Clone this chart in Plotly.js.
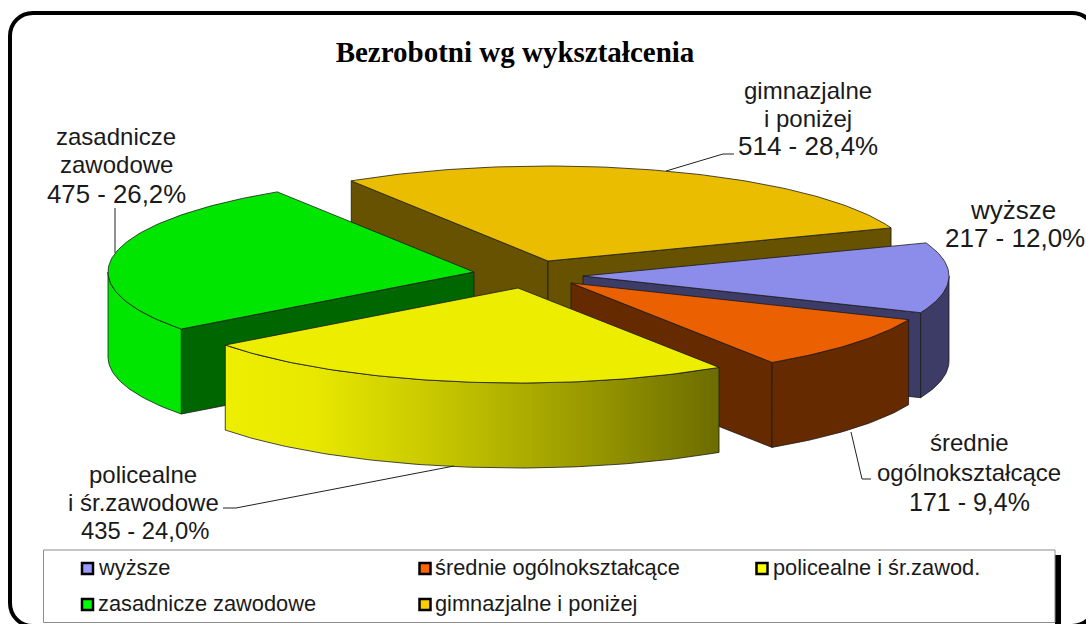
<!DOCTYPE html>
<html lang="pl">
<head>
<meta charset="utf-8">
<title>Bezrobotni wg wykształcenia</title>
<script src="https://cdn.plot.ly/plotly-3.0.1.min.js"></script>
<style>html,body{margin:0;padding:0;background:#fff}#chart{width:1086px;height:624px}</style>
</head>
<body>
<div id="chart"></div>
<script>
// ---- data ----
const titleText = 'Bezrobotni wg wykształcenia';
const categories = ['wyższe', 'średnie ogólnokształcące', 'policealne i śr.zawod.', 'zasadnicze zawodowe', 'gimnazjalne i poniżej'];
const values = [217, 171, 435, 475, 514];
const percents = ['12,0%', '9,4%', '24,0%', '26,2%', '28,4%'];
const labelNames = [['wyższe'], ['średnie', 'ogólnokształcące'], ['policealne', 'i śr.zawodowe'], ['zasadnicze', 'zawodowe'], ['gimnazjalne', 'i poniżej']];

// ---- styles ----
const topColors = ['#8c8ceb', '#eb6000', '#eded00', '#00e600', '#ebbd00'];
const wallColors = ['#3c3c66', '#662a00', '#666600', '#006600', '#665200'];
const bandColors = ['#3c3c66', '#662a00', null, '#00e600', '#665200'];
const legendColors = ['#9999ff', '#ff6600', '#ffff00', '#00ff00', '#ffcc00'];

// ---- projected pie geometry, in axis units (axes span the picture) ----
const rx = 366, ry = 95, depth = 85, startAngle = 69.6;
const apexX = [583, 571, 518, 474, 548];
const apexY = [276, 283, 288, 272, 261];
const drawOrder = [4, 3, 0, 1, 2];
const total = values.reduce((a, b) => a + b, 0);

function rim(i, deg, dy) {
  const r = deg * Math.PI / 180;
  return [apexX[i] + rx * Math.sin(r), apexY[i] - ry * Math.cos(r) + dy];
}
function arc(i, from, to, dy) {
  const out = [], n = Math.max(2, Math.ceil(Math.abs(to - from)));
  for (let k = 0; k <= n; k++) out.push(rim(i, from + (to - from) * k / n, dy));
  return out;
}
const outline = {color: '#1a1a1a', width: 0.8};
function poly(pts, color, extra) {
  return Object.assign({
    type: 'scatter', mode: 'lines', x: pts.map(p => p[0]), y: pts.map(p => p[1]),
    fill: 'toself', fillcolor: color, line: outline, hoverinfo: 'skip', showlegend: false
  }, extra || {});
}

let acc = startAngle;
const spans = values.map(v => { const a = acc; acc += v / total * 360; return [a, acc]; });
const traces = [];
drawOrder.forEach(i => {
  const [a, b] = spans[i];
  const apex = [apexX[i], apexY[i]];
  if (Math.sin(a * Math.PI / 180) < 0) {
    const c = rim(i, a, 0), d = rim(i, a, depth);
    traces.push(poly([apex, c, d, [apex[0], apex[1] + depth], apex], wallColors[i]));
  }
  if (Math.sin(b * Math.PI / 180) > 0) {
    const c = rim(i, b, 0), d = rim(i, b, depth);
    traces.push(poly([apex, c, d, [apex[0], apex[1] + depth], apex], wallColors[i]));
  }
  const f = Math.max(a, 90), t = Math.min(b, 270);
  if (t > f) {
    const band = arc(i, f, t, 0).concat(arc(i, t, f, depth));
    band.push(band[0]);
    if (bandColors[i]) {
      traces.push(poly(band, bandColors[i]));
    } else {
      const xs = band.map(p => p[0]);
      traces.push(poly(band, topColors[i], {
        fillgradient: {
          type: 'horizontal', start: Math.min(...xs), stop: Math.max(...xs),
          colorscale: [[0, '#eeee00'], [0.18, '#e8e800'], [0.45, '#c4c400'], [0.75, '#969600'], [1, '#6c6c00']]
        }
      }));
    }
  }
  const face = [apex].concat(arc(i, a, b, 0));
  face.push(apex);
  traces.push(poly(face, topColors[i]));
});

// leader lines
const leaderX = [[734, 723, 666], [851, 862, 871], [223, 236, 454], [115, 115]];
const leaderY = [[154, 154, 171], [432, 479, 479], [508, 508, 466], [208, 253]];
leaderX.forEach((xs, k) => traces.push({
  type: 'scatter', mode: 'lines', x: xs, y: leaderY[k],
  line: {color: '#222', width: 1}, hoverinfo: 'skip', showlegend: false
}));

// legend markers
const legendX = [87.5, 425, 762, 87.5, 425];
const legendY = [568.5, 568.5, 568.5, 604.5, 604.5];
traces.push({
  type: 'scatter', mode: 'markers', x: legendX, y: legendY,
  marker: {symbol: 'square', size: 11, color: legendColors, line: {color: '#000', width: 2.5}},
  hoverinfo: 'skip', showlegend: false
});

// ---- text ----
const SANS = 'Liberation Sans, Arial, sans-serif';
function note(text, x, y, size, anchor) {
  return {text, x, y, xref: 'x', yref: 'y', showarrow: false, xanchor: anchor || 'center', yanchor: 'middle',
    font: {family: SANS, size, color: '#1a1a1a'}};
}
const labelX = [1013, 969, 143, 116, 808];
const labelLineY = [[210, 238], [442, 472, 502], [474, 502, 530], [136, 164, 194], [90, 118, 146]];
const nameSize = [26, 24, 24, 24, 24];
const valueSize = [26, 25, 23.8, 25.8, 26];
const annotations = [];
categories.forEach((_, i) => {
  const ys = labelLineY[i];
  labelNames[i].forEach((line, k) => annotations.push(note(line, labelX[i], ys[k], nameSize[i])));
  annotations.push(note(values[i] + ' - ' + percents[i], labelX[i] + (i === 0 ? 2 : i === 2 ? 2 : 0), ys[ys.length - 1], valueSize[i]));
});
const legendTextX = [96, 433, 771, 96, 433];
categories.forEach((c, i) => annotations.push(note(c, legendTextX[i], legendY[i] - 1, 21.8, 'left')));

const shapes = [
  // chart frame, running past the right and bottom of the picture
  {type: 'path', xref: 'x', yref: 'y', layer: 'below', line: {color: '#000', width: 4},
   path: 'M 10 36 C 10 23 20 13 33 13 L 1072 13 C 1085 13 1095 23 1095 36 L 1095 603 C 1095 616 1085 626 1072 626 L 33 626 C 20 626 10 616 10 603 Z'},
  // legend shadow and box
  {type: 'rect', xref: 'x', yref: 'y', layer: 'below', x0: 1055, x1: 1061, y0: 555, y1: 624, fillcolor: '#000', line: {width: 0}},
  {type: 'rect', xref: 'x', yref: 'y', layer: 'below', x0: 43.5, x1: 1055, y0: 550, y1: 622.5, fillcolor: '#fff', line: {color: '#8c8c8c', width: 1}}
];

const layout = {
  width: 1086, height: 624, margin: {l: 0, r: 0, t: 0, b: 0},
  paper_bgcolor: '#fff', plot_bgcolor: '#fff', showlegend: false, hovermode: false,
  title: {text: '<b>' + titleText + '</b>', x: 515 / 1086, xanchor: 'center', y: 1 - 52 / 624, yanchor: 'middle',
    font: {family: 'Liberation Serif, Times New Roman, serif', size: 29, color: '#000'}},
  xaxis: {range: [0, 1086], visible: false, fixedrange: true},
  yaxis: {range: [624, 0], visible: false, fixedrange: true},
  shapes, annotations
};
Plotly.newPlot('chart', traces, layout, {displayModeBar: false, staticPlot: true});
</script>
</body>
</html>
